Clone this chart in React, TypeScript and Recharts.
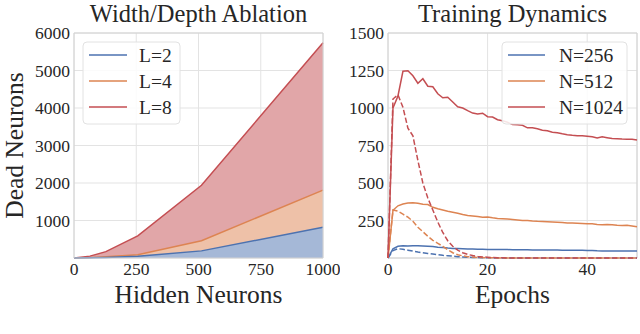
import React from 'react';
import { AreaChart, Area, LineChart, Line, XAxis, YAxis, CartesianGrid, ReferenceArea } from 'recharts';

// ---------- Left panel: Width/Depth Ablation ----------
const hiddenNeurons = [0, 64, 128, 256, 512, 1000];
const deadL2 = [0, 5, 15, 45, 190, 820];
const deadL4 = [0, 10, 32, 85, 460, 1810];
const deadL8 = [0, 50, 170, 590, 1940, 5740];
const ablationXTicks = [0, 250, 500, 750, 1000];
const ablationYTicks = [1000, 2000, 3000, 4000, 5000, 6000];

// ---------- Right panel: Training Dynamics ----------
const epochs = [0, 1, 2, 3, 4, 5, 6, 7, 8, 9, 10, 11, 12, 13, 14, 15, 16, 17, 18, 19, 20, 21, 22, 23, 24, 25, 26, 27, 28, 29, 30, 31, 32, 33, 34, 35, 36, 37, 38, 39, 40, 41, 42, 43, 44, 45, 46, 47, 48, 49, 50];
const n256Solid = [0, 62, 78, 82, 80, 82, 81, 80, 78, 76, 72, 70, 66, 64, 63, 62, 60, 60, 58, 58, 57, 57, 56, 56, 56, 55, 55, 55, 55, 54, 54, 54, 53, 53, 53, 52, 52, 52, 52, 51, 50, 50, 48, 47, 47, 47, 47, 47, 47, 46, 46];
const n256Dashed = [0, 50, 62, 58, 52, 46, 40, 35, 30, 26, 22, 18, 15, 12, 9, 7, 5, 4, 3, 2, 1, 1, 0, 0, 0, 0, 0, 0, 0, 0, 0, 0, 0, 0, 0, 0, 0, 0, 0, 0, 0, 0, 0, 0, 0, 0, 0, 0, 0, 0, 0];
const n512Solid = [0, 318, 348, 360, 366, 368, 365, 358, 356, 338, 328, 320, 312, 305, 298, 290, 284, 280, 276, 272, 274, 268, 264, 262, 260, 257, 254, 250, 250, 247, 245, 244, 242, 240, 238, 236, 234, 233, 232, 230, 228, 228, 224, 222, 224, 222, 218, 216, 218, 214, 208];
const n512Dashed = [0, 320, 312, 292, 272, 245, 205, 175, 145, 118, 98, 78, 55, 35, 22, 14, 9, 6, 4, 3, 2, 1, 0, 0, 0, 0, 0, 0, 0, 0, 0, 0, 0, 0, 0, 0, 0, 0, 0, 0, 0, 0, 0, 0, 0, 0, 0, 0, 0, 0, 0];
const n1024Solid = [0, 1000, 1080, 1245, 1248, 1215, 1165, 1195, 1145, 1142, 1095, 1068, 1072, 1040, 1008, 1000, 982, 966, 960, 965, 942, 940, 922, 915, 905, 890, 888, 885, 868, 868, 862, 852, 848, 838, 835, 828, 822, 818, 815, 815, 812, 808, 800, 808, 802, 796, 795, 793, 792, 792, 786];
const n1024Dashed = [0, 1060, 1088, 1005, 865, 815, 650, 500, 400, 320, 240, 170, 115, 78, 52, 35, 24, 16, 10, 7, 5, 3, 2, 1, 0, 0, 0, 0, 0, 0, 0, 0, 0, 0, 0, 0, 0, 0, 0, 0, 0, 0, 0, 0, 0, 0, 0, 0, 0, 0, 0];
const dynamicsXTicks = [0, 20, 40];
const dynamicsYTicks = [250, 500, 750, 1000, 1250, 1500];

const ablationData = hiddenNeurons.map((x, i) => ({ x, l2: deadL2[i], l4: deadL4[i], l8: deadL8[i] }));
const dynamicsData = epochs.map((e, i) => ({
  e,
  a: n256Solid[i], ad: n256Dashed[i],
  b: n512Solid[i], bd: n512Dashed[i],
  c: n1024Solid[i], cd: n1024Dashed[i],
}));

const BLUE = '#4c72b0';
const ORANGE = '#dd8452';
const RED = '#c44e52';
const FONT = '"Liberation Serif", "Times New Roman", serif';
const TEXT = '#262626';
const GRID = '#e3e3e3';
const FRAME = '#d2d2d2';
const DASH = '5.5 2.4';

function XTick({ x, y, payload }: any) {
  return (
    <text x={x} y={y} dy="0.71em" textAnchor="middle" fontFamily={FONT} fontSize={17.5} fill={TEXT}>
      {payload.value}
    </text>
  );
}
function YTick({ x, y, payload }: any) {
  return (
    <text x={x} y={y} dy="0.355em" textAnchor="end" fontFamily={FONT} fontSize={17.5} fill={TEXT}>
      {payload.value}
    </text>
  );
}

function Legend({ x, y, w, items, lineX0, lineX1, textX }: any) {
  return (
    <g>
      <rect x={x} y={y} width={w} height={82} rx={4} ry={4} fill="#ffffff" fillOpacity={0.85} stroke="#e2e2e2" strokeWidth={1} />
      {items.map((it: any, i: number) => (
        <g key={it.label}>
          <line x1={lineX0} x2={lineX1} y1={y + 13 + i * 26} y2={y + 13 + i * 26} stroke={it.color} strokeWidth={1.5} />
          <text x={textX} y={y + 20 + i * 26} fontFamily={FONT} fontSize={19.5} fill={TEXT}>{it.label}</text>
        </g>
      ))}
    </g>
  );
}

export default function App() {
  return (
    <div style={{ position: 'absolute', left: 0, top: 0, width: 640, height: 334, background: '#fff', overflow: 'hidden', fontFamily: FONT }}>
      <div style={{ position: 'absolute', left: 0, top: 0 }}>
        <AreaChart width={340} height={334} data={ablationData} margin={{ top: 33, right: 17, bottom: 46, left: 0 }}>
          <CartesianGrid stroke={GRID} strokeWidth={1} />
          <XAxis dataKey="x" type="number" domain={[0, 1000]} ticks={ablationXTicks} tickLine={false} axisLine={false}
            tick={<XTick />} tickSize={2} tickMargin={3} height={30} interval={0} />
          <YAxis type="number" domain={[0, 6000]} ticks={ablationYTicks} tickLine={false} axisLine={false}
            tick={<YTick />} tickSize={2} tickMargin={2} width={74} interval={0} />
          <Area type="linear" dataKey="l8" stroke={RED} strokeWidth={1.5} fill="#e1a6a8" fillOpacity={1} isAnimationActive={false} dot={false} activeDot={false} />
          <Area type="linear" dataKey="l4" stroke={ORANGE} strokeWidth={1.5} fill="#eec1a8" fillOpacity={1} isAnimationActive={false} dot={false} activeDot={false} />
          <Area type="linear" dataKey="l2" stroke={BLUE} strokeWidth={1.5} fill="#a5b8d7" fillOpacity={1} isAnimationActive={false} dot={false} activeDot={false} />
          <ReferenceArea x1={0} x2={1000} y1={0} y2={6000} fill="none" stroke={FRAME} strokeWidth={1} ifOverflow="visible" />
        </AreaChart>
      </div>
      <div style={{ position: 'absolute', left: 314, top: 0 }}>
        <LineChart width={326} height={334} data={dynamicsData} margin={{ top: 33, right: 3, bottom: 46, left: 0 }}>
          <CartesianGrid stroke={GRID} strokeWidth={1} />
          <XAxis dataKey="e" type="number" domain={[0, 50]} ticks={dynamicsXTicks} tickLine={false} axisLine={false}
            tick={<XTick />} tickSize={2} tickMargin={3} height={30} interval={0} />
          <YAxis type="number" domain={[0, 1500]} ticks={dynamicsYTicks} tickLine={false} axisLine={false}
            tick={<YTick />} tickSize={2} tickMargin={2} width={74} interval={0} />
          <ReferenceArea x1={0} x2={50} y1={0} y2={1500} fill="none" stroke={FRAME} strokeWidth={1} ifOverflow="visible" />
          <Line type="linear" dataKey="a" stroke={BLUE} strokeWidth={1.5} dot={false} activeDot={false} isAnimationActive={false} />
          <Line type="linear" dataKey="ad" stroke={BLUE} strokeWidth={1.5} strokeDasharray={DASH} dot={false} activeDot={false} isAnimationActive={false} />
          <Line type="linear" dataKey="b" stroke={ORANGE} strokeWidth={1.5} dot={false} activeDot={false} isAnimationActive={false} />
          <Line type="linear" dataKey="bd" stroke={ORANGE} strokeWidth={1.5} strokeDasharray={DASH} dot={false} activeDot={false} isAnimationActive={false} />
          <Line type="linear" dataKey="c" stroke={RED} strokeWidth={1.5} dot={false} activeDot={false} isAnimationActive={false} />
          <Line type="linear" dataKey="cd" stroke={RED} strokeWidth={1.5} strokeDasharray={DASH} dot={false} activeDot={false} isAnimationActive={false} />
        </LineChart>
      </div>
      <svg width={640} height={334} style={{ position: 'absolute', left: 0, top: 0, pointerEvents: 'none' }}>
        <text x={198.5} y={22} textAnchor="middle" fontFamily={FONT} fontSize={24.5} fill={TEXT}>Width/Depth Ablation</text>
        <text x={512.5} y={22} textAnchor="middle" fontFamily={FONT} fontSize={24.5} fill={TEXT}>Training Dynamics</text>
        <text x={198.5} y={303} textAnchor="middle" fontFamily={FONT} fontSize={25.5} fill={TEXT}>Hidden Neurons</text>
        <text x={512.5} y={303} textAnchor="middle" fontFamily={FONT} fontSize={25.5} fill={TEXT}>Epochs</text>
        <text x={23} y={145.5} textAnchor="middle" fontFamily={FONT} fontSize={25.5} fill={TEXT} transform="rotate(-90 23 145.5)">Dead Neurons</text>
        <Legend x={83} y={42} w={97} lineX0={89} lineX1={127} textX={139}
          items={[{ label: 'L=2', color: BLUE }, { label: 'L=4', color: ORANGE }, { label: 'L=8', color: RED }]} />
        <Legend x={502} y={42} w={125} lineX0={508} lineX1={545} textX={559}
          items={[{ label: 'N=256', color: BLUE }, { label: 'N=512', color: ORANGE }, { label: 'N=1024', color: RED }]} />
      </svg>
    </div>
  );
}
